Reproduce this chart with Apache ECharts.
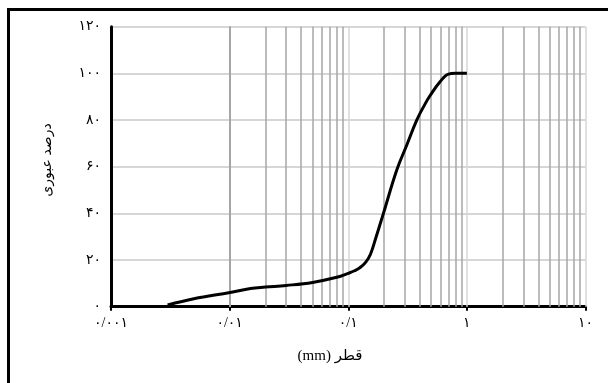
<!DOCTYPE html>
<html>
<head>
<meta charset="utf-8">
<script src="https://cdn.jsdelivr.net/npm/echarts@6/dist/echarts.min.js"></script>
<style>
  html, body { margin: 0; padding: 0; background: #fff; }
  #wrap { position: relative; width: 608px; height: 383px; overflow: hidden; }
  #chart { width: 608px; height: 383px; }
  #frame { position: absolute; left: 7px; top: 8px; width: 700px; height: 500px;
           border-top: 3px solid #000; border-left: 3px solid #000; pointer-events: none; }
</style>
</head>
<body>
<div id="wrap"><div id="chart"></div><div id="frame"></div></div>
<script>
// Grain size (mm) and percent passing
const sizes   = [0.003, 0.005, 0.0101, 0.015, 0.02, 0.03, 0.05, 0.08, 0.1,  0.113, 0.126, 0.14, 0.154, 0.172, 0.198, 0.256, 0.311, 0.378, 0.44, 0.49, 0.594, 0.7,  0.8, 1.0];
const passing = [0.7,   3.4,   6.1,    7.8,   8.4,  9.1,  10.4, 12.6, 14.3, 15.4,  16.8,  19.0, 22.5,  30,    40,    58.5,  69.2,  80,    86.5, 90.5, 96.4,  99.7, 100, 100];

// Tick labels
const xTickValues = [0.001, 0.01, 0.1, 1, 10];
const xTickLabels = ['۰/۰۰۱', '۰/۰۱', '۰/۱', '۱', '۱۰'];
const yTickValues = [0, 20, 40, 60, 80, 100, 120];
const yTickLabels = ['۰', '۲۰', '۴۰', '۶۰', '۸۰', '۱۰۰', '۱۲۰'];
const xName = '\u2067قطر (mm)\u2069';
const yName = 'درصد عبوری';

// log grid positions: decades (light) and 2..9 × decade (darker)
const minorLines = [];
for (let k = -3; k < 1; k++) {
  for (let d = 2; d <= 9; d++) minorLines.push(+(d * Math.pow(10, k)).toPrecision(3));
}
const gridLineData = xTickValues.slice(1).map(v => ({ xAxis: v, lineStyle: { color: '#d6d6d6', width: 1.5 } }))
  .concat(minorLines.map(v => ({ xAxis: v, lineStyle: { color: '#a6a6a6', width: 1.5 } })));

const FONT = "'Liberation Serif', 'DejaVu Serif', 'DejaVu Sans', serif";

const chart = echarts.init(document.getElementById('chart'), null, { renderer: 'canvas' });
chart.setOption({
  animation: false,
  backgroundColor: '#fff',
  grid: { left: 111, right: 22.5, top: 26.7, bottom: 76.3, containLabel: false },
  xAxis: {
    type: 'log', logBase: 10, min: 0.001, max: 10,
    axisLine: { show: true, onZero: false, lineStyle: { color: '#000', width: 3 } },
    axisTick: { show: true, length: 4, lineStyle: { color: '#000', width: 2 } },
    axisLabel: {
      color: '#000', fontSize: 14, fontFamily: FONT, margin: 10,
      formatter: v => xTickLabels[Math.round(Math.log10(v)) + 3]
    },
    splitLine: { show: false },
    minorTick: { show: false }, minorSplitLine: { show: false }
  },
  yAxis: {
    type: 'value', min: 0, max: 120, interval: 20,
    axisLine: { show: true, lineStyle: { color: '#000', width: 3 } },
    axisTick: { show: false },
    axisLabel: {
      color: '#000', fontSize: 14, fontFamily: FONT, margin: 10,
      formatter: v => yTickLabels[yTickValues.indexOf(v)]
    },
    splitLine: { show: true, lineStyle: { color: '#c8c8c8', width: 1.5 } }
  },
  graphic: [
    { type: 'text', x: 330, y: 356, style: { text: xName, fill: '#000', font: "15px " + FONT, textAlign: 'center', textVerticalAlign: 'middle' } },
    { type: 'text', x: 47, y: 160, rotation: Math.PI / 2, style: { text: yName, fill: '#000', font: "14px " + FONT, textAlign: 'center', textVerticalAlign: 'middle' } }
  ],
  series: [
    {
      type: 'line', data: [], z: 1, silent: true,
      markLine: {
        silent: true, symbol: ['none', 'none'], label: { show: false }, animation: false,
        lineStyle: { type: 'solid' },
        emphasis: { disabled: true },
        data: gridLineData
      }
    },
    {
      type: 'line', z: 5, smooth: 0.4, showSymbol: false,
      lineStyle: { color: '#000', width: 3 },
      data: sizes.map((s, i) => [s, passing[i]])
    }
  ]
});
</script>
</body>
</html>
